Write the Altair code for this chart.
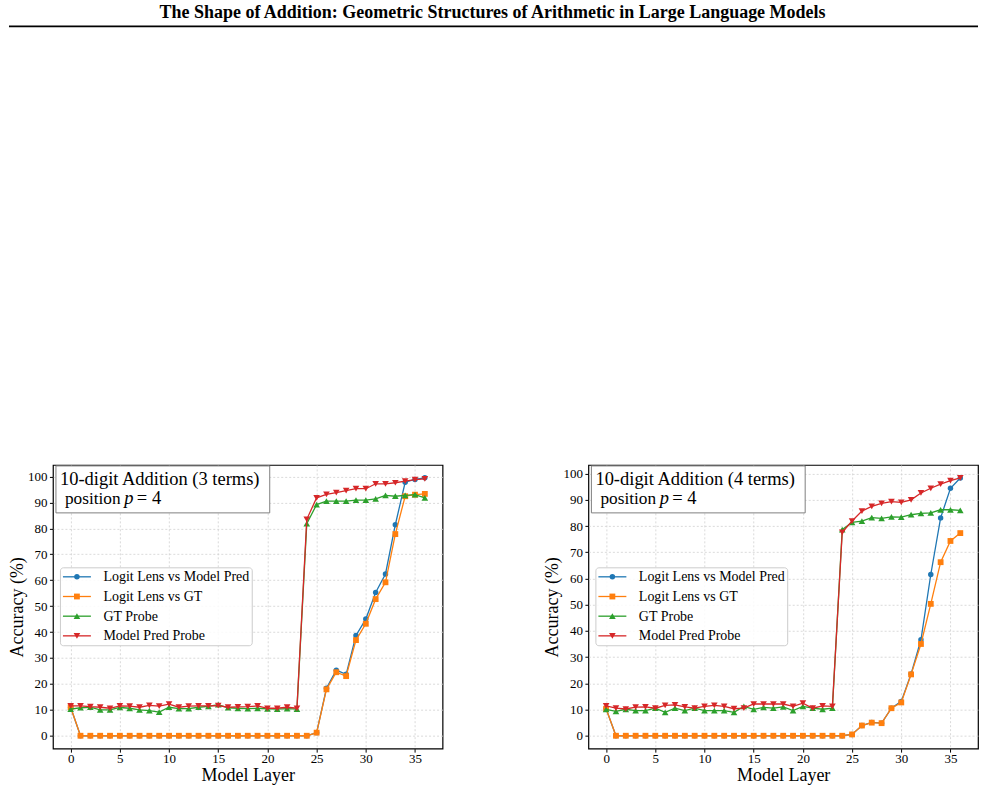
import altair as alt
import pandas as pd

# ---------------- data ----------------
layers = list(range(37))

series_names = ["Logit Lens vs Model Pred", "Logit Lens vs GT", "GT Probe", "Model Pred Probe"]
series_colors = ["#1f77b4", "#ff7f0e", "#2ca02c", "#d62728"]
series_shapes = ["circle", "square", "triangle-up", "triangle-down"]
series_sizes = [30, 34, 44, 44]

# 10-digit Addition (3 terms)
ll_model_3 = [11.0] + [0.0] * 24 + [1.2, 18.3, 25.3, 23.7, 38.7, 45.0, 55.3, 62.4, 81.4, 97.8, 98.9, 99.5]
ll_gt_3 = [11.0] + [0.0] * 24 + [1.2, 17.9, 24.5, 23.0, 36.9, 43.2, 52.7, 59.2, 77.8, 92.4, 93.0, 93.3]
gt_probe_3 = [10.3, 10.8, 11.0, 10.0, 10.0, 10.9, 10.6, 10.0, 9.7, 9.1, 11.0, 10.5, 10.5, 11.0, 11.3, 12.0,
              10.8, 10.6, 10.5, 10.6, 10.4, 10.3, 10.5, 10.3,
              81.8, 89.2, 90.5, 90.5, 90.5, 90.9, 90.9, 91.4, 92.7, 92.4, 92.7, 93.0, 91.8]
model_probe_3 = [11.5, 11.5, 11.2, 11.0, 10.6, 11.5, 11.4, 11.0, 11.7, 11.4, 12.2, 11.0, 11.4, 11.5, 11.5, 11.6,
                 11.0, 11.1, 11.2, 11.5, 10.6, 10.6, 11.0, 10.6,
                 83.5, 91.8, 93.1, 93.8, 94.6, 95.3, 95.3, 97.2, 97.2, 97.6, 98.2, 98.8, 99.1]

# 10-digit Addition (4 terms)
ll_model_4 = [10.3] + [0.0] * 24 + [0.5, 3.9, 5.1, 4.8, 10.5, 13.1, 23.6, 36.6, 61.5, 83.1, 94.4, 98.3]
ll_gt_4 = [10.3] + [0.0] * 24 + [0.5, 3.9, 5.0, 4.8, 10.5, 12.7, 23.4, 35.0, 50.3, 66.2, 74.3, 77.3]
gt_probe_4 = [10.1, 9.3, 10.1, 9.6, 9.6, 10.5, 8.9, 10.5, 9.6, 10.5, 9.6, 9.6, 9.6, 8.9, 11.2, 10.1,
              10.8, 10.5, 11.0, 9.6, 11.2, 10.5, 10.1, 10.5,
              78.6, 81.4, 81.9, 83.2, 82.9, 83.5, 83.4, 84.3, 84.8, 85.0, 86.2, 86.2, 86.0]
model_probe_4 = [11.4, 10.5, 10.2, 10.9, 11.0, 10.5, 11.6, 11.8, 11.0, 10.5, 11.2, 11.6, 11.2, 10.3, 10.5, 12.1,
                 12.1, 12.1, 12.1, 11.2, 12.4, 10.5, 11.4, 11.2,
                 77.6, 81.9, 85.7, 87.5, 88.6, 89.3, 89.0, 90.0, 92.6, 94.4, 96.0, 97.3, 98.4]

panel_titles = ["10-digit Addition (3 terms)", "10-digit Addition (4 terms)"]
position_text = ["position", "p", "= 4"]
suptitle = "The Shape of Addition: Geometric Structures of Arithmetic in Large Language Models"
x_ticks = [0, 5, 10, 15, 20, 25, 30, 35]
y_ticks = [0, 10, 20, 30, 40, 50, 60, 70, 80, 90, 100]

FONT = "Liberation Serif"
W, H = 390, 284


def panel(values, box_title, ydom, with_suptitle):
    xs = alt.Scale(domain=[-1.8, 37.8], nice=False, zero=False)
    ys = alt.Scale(domain=ydom, nice=False, zero=False)
    xaxis = alt.Axis(values=x_ticks, title="Model Layer", labelOverlap=False, labelPadding=0, titlePadding=1.5)
    yaxis = alt.Axis(values=y_ticks, title="Accuracy (%)", labelOverlap=False, labelPadding=2.5, titlePadding=1)
    parts = []
    for name, vals, col, shp, sz in zip(series_names, values, series_colors, series_shapes, series_sizes):
        d = pd.DataFrame({"layer": layers, "acc": vals, "series": name})
        base = alt.Chart(d).encode(
            x=alt.X("layer:Q", scale=xs, axis=xaxis),
            y=alt.Y("acc:Q", scale=ys, axis=yaxis),
        )
        parts.append(base.mark_line(color=col, strokeWidth=1.3))
        parts.append(base.mark_point(shape=shp, filled=True, color=col, size=sz, opacity=1))

    one = pd.DataFrame({"t": [box_title]})
    # text box
    parts.append(alt.Chart(one).mark_rect(fill="white", stroke="#808080", strokeWidth=1).encode(
        x=alt.value(3), x2=alt.value(217), y=alt.value(1), y2=alt.value(48)))
    parts.append(alt.Chart(one).mark_text(align="left", baseline="alphabetic", font=FONT, fontSize=18.5,
                                          color="black").encode(text="t:N", x=alt.value(7), y=alt.value(20)))
    pos_x = [12, 71.5, 84]
    pos_size = [17.3, 18.5, 18.5]
    pos_style = ["normal", "italic", "normal"]
    for txt, px, fs, st in zip(position_text, pos_x, pos_size, pos_style):
        parts.append(alt.Chart(pd.DataFrame({"t": [txt]})).mark_text(
            align="left", baseline="alphabetic", font=FONT, fontSize=fs, fontStyle=st, color="black"
        ).encode(text="t:N", x=alt.value(px), y=alt.value(39.5)))

    # legend
    parts.append(alt.Chart(one).mark_rect(fill="white", fillOpacity=0.85, stroke="#cccccc", strokeWidth=1,
                                          cornerRadius=3).encode(
        x=alt.value(7.5), x2=alt.value(199.5), y=alt.value(103), y2=alt.value(181)))
    for i, (name, col, shp, sz) in enumerate(zip(series_names, series_colors, series_shapes, series_sizes)):
        ry = 112 + i * 19.7
        dd = pd.DataFrame({"t": [name]})
        parts.append(alt.Chart(dd).mark_rule(color=col, strokeWidth=1.3).encode(
            x=alt.value(10), x2=alt.value(38), y=alt.value(ry)))
        parts.append(alt.Chart(dd).mark_point(shape=shp, filled=True, color=col, size=sz, opacity=1).encode(
            x=alt.value(24), y=alt.value(ry)))
        parts.append(alt.Chart(dd).mark_text(align="left", baseline="middle", font=FONT, fontSize=14,
                                             color="black").encode(
            text="t:N", x=alt.value(50.5), y=alt.value(ry + 0.5)))

    if with_suptitle:
        st = pd.DataFrame({"t": [suptitle]})
        parts.append(alt.Chart(st).mark_text(align="center", baseline="middle", font=FONT, fontSize=18,
                                             fontWeight="bold", color="black").encode(
            text="t:N", x=alt.value(440), y=alt.value(-452)))
        parts.append(alt.Chart(st).mark_rule(color="black", strokeWidth=2).encode(
            x=alt.value(-44), x2=alt.value(926), y=alt.value(-439)))

    return alt.layer(*parts).properties(width=W, height=H)


left = panel([ll_model_3, ll_gt_3, gt_probe_3, model_probe_3], panel_titles[0], [-4.975, 104.475], True)
right = panel([ll_model_4, ll_gt_4, gt_probe_4, model_probe_4], panel_titles[1], [-4.92, 103.3], False)

chart = alt.hconcat(left, right, spacing=146, bounds="flush").properties(
    padding={"left": 7, "top": 3, "right": 5, "bottom": 5}
).configure_view(
    stroke="black", strokeWidth=1.2
).configure_axis(
    domain=False,
    grid=True, gridColor="#d0d0d0", gridDash=[2, 2], gridWidth=0.8,
    tickColor="black", tickSize=3.5, tickWidth=1,
    labelFont=FONT, labelFontSize=13, labelColor="black",
    titleFont=FONT, titleFontSize=18, titleFontWeight="normal", titleColor="black",
)

chart.save("out.html", embed_options={"renderer": "svg", "actions": False})
